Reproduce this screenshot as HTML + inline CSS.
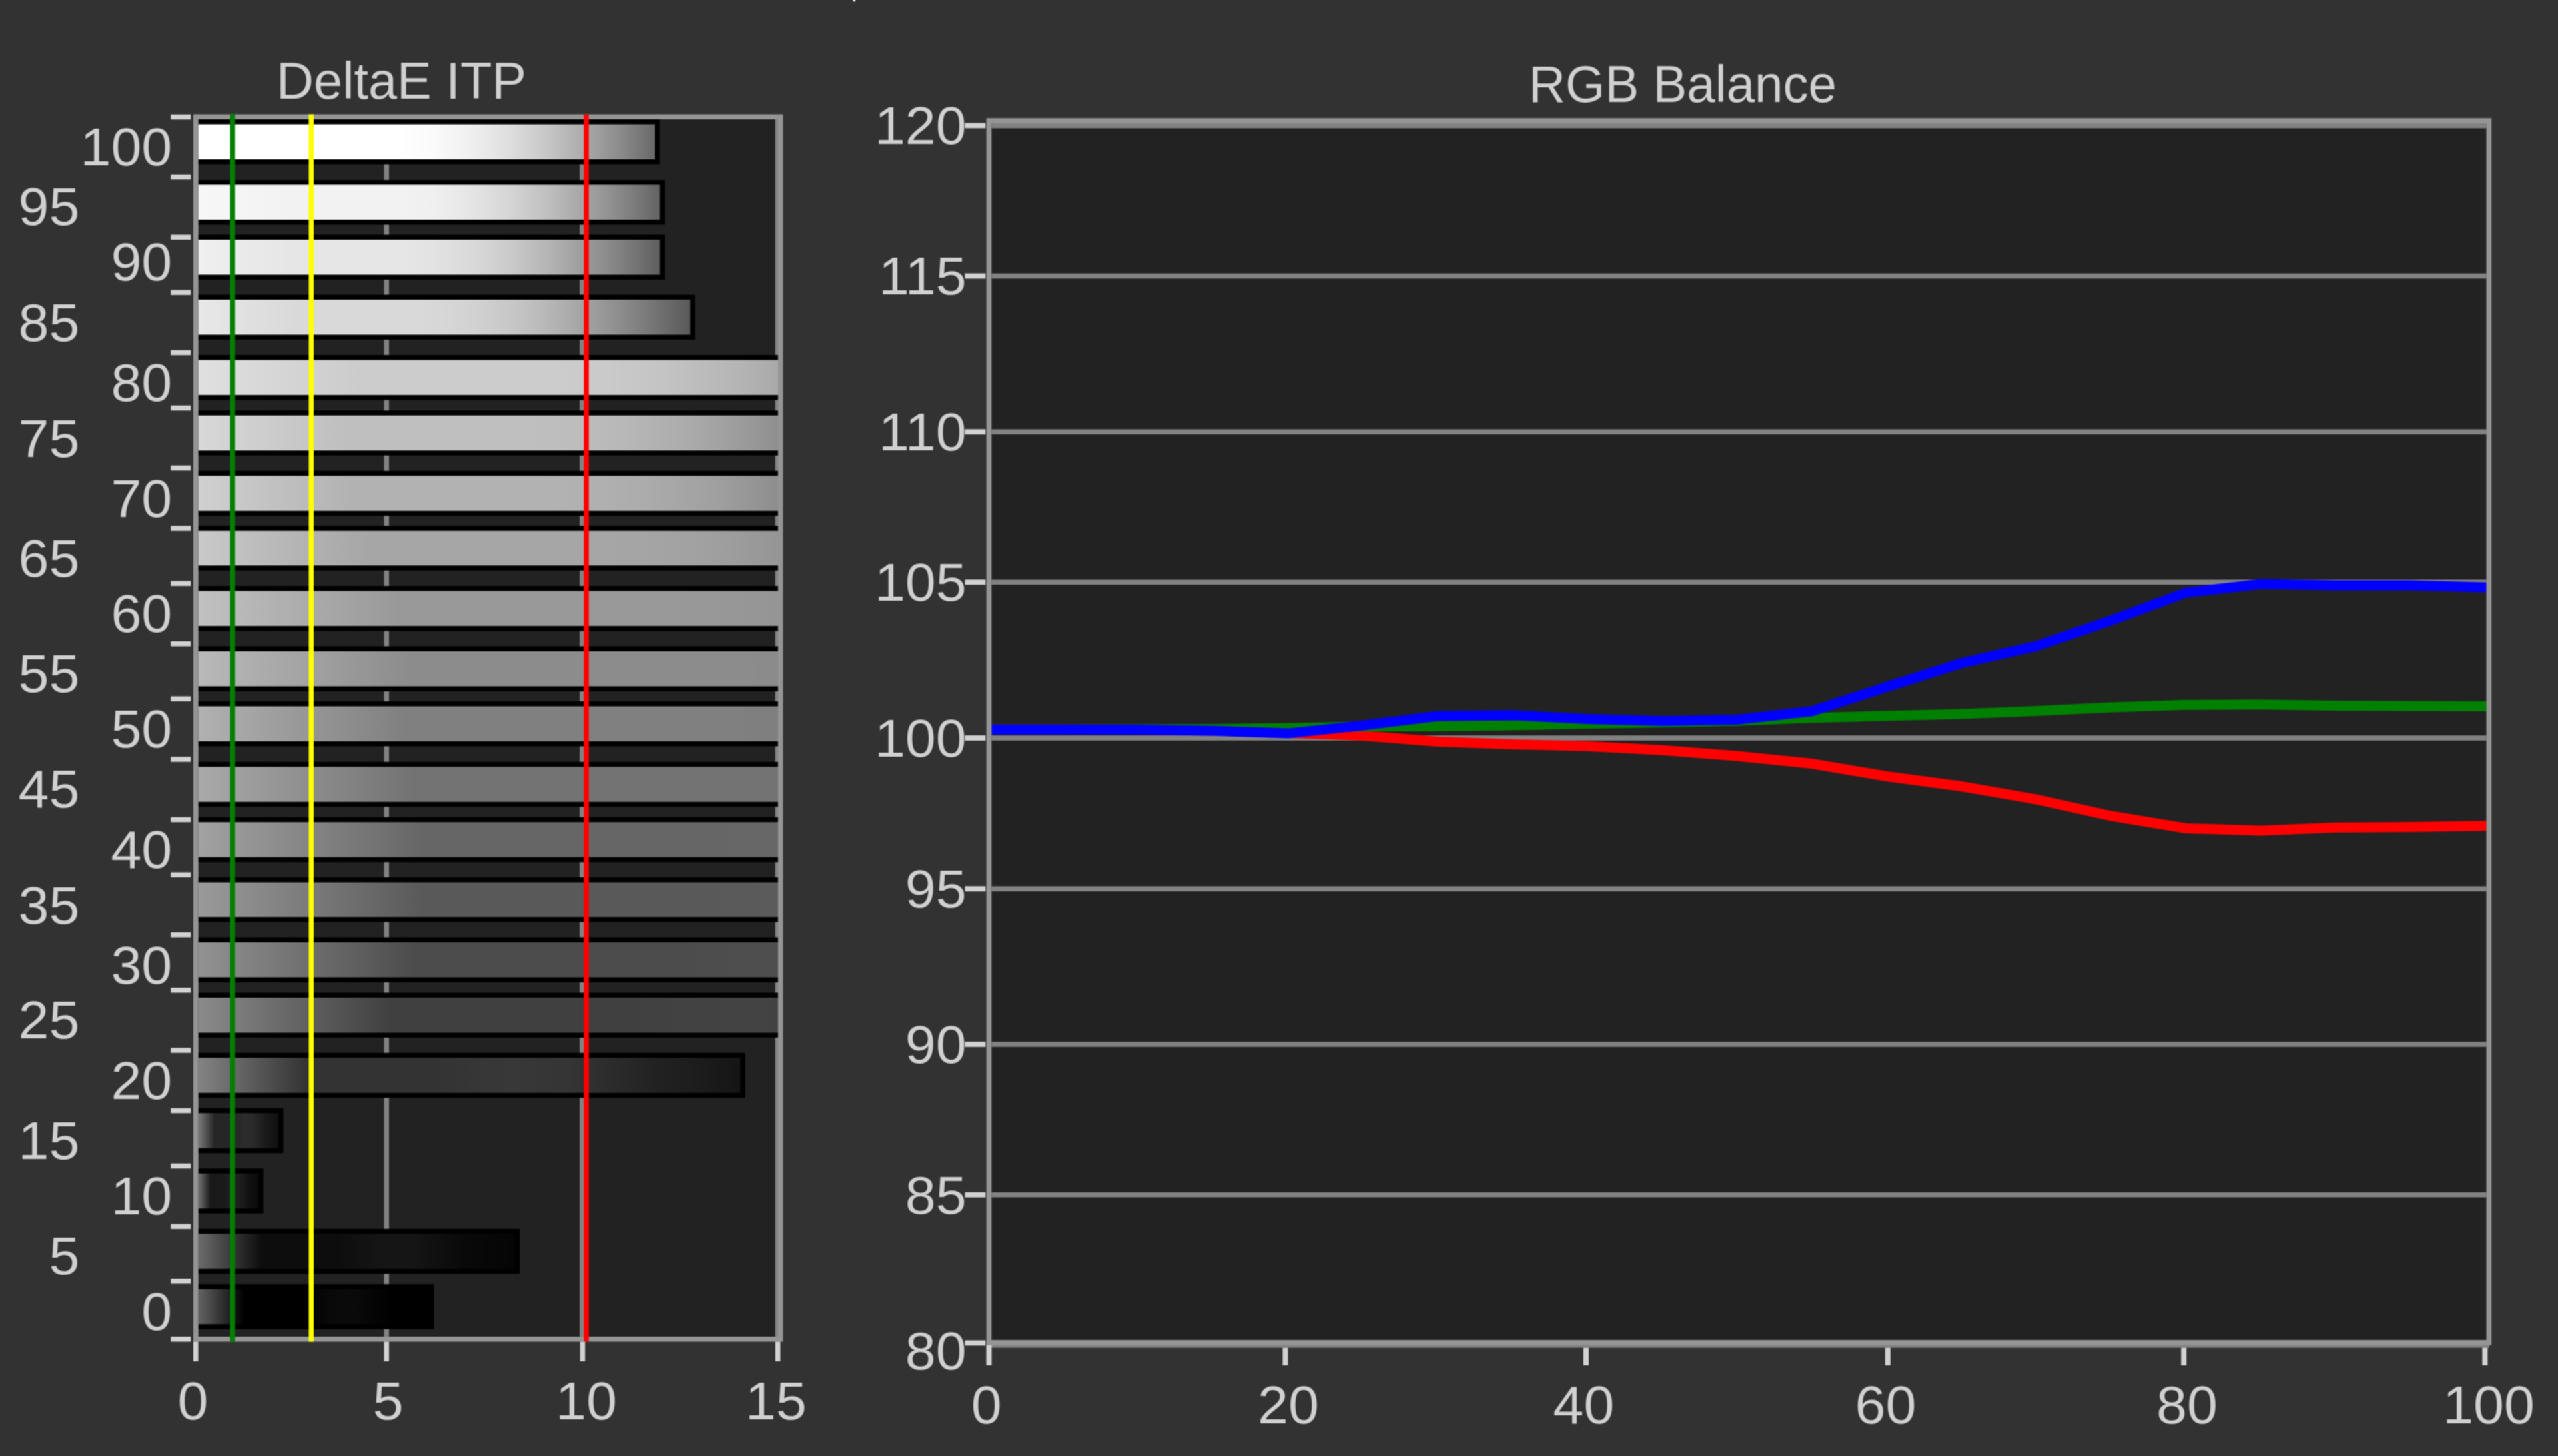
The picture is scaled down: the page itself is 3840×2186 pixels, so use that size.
<!DOCTYPE html>
<html lang="en"><head><meta charset="utf-8"><title>DeltaE ITP / RGB Balance</title>
<style>
html,body{margin:0;padding:0;background:#323232;width:3840px;height:2186px;overflow:hidden}
svg{display:block}
</style></head><body>
<svg width="3840" height="2186" viewBox="0 0 3840 2186">
<rect x="0" y="0" width="3840" height="2186" fill="#323232"/>
<filter id="soft" color-interpolation-filters="sRGB" x="0" y="0" width="3840" height="2186" filterUnits="userSpaceOnUse"><feConvolveMatrix order="3" kernelMatrix="1 2 1 2 4 2 1 2 1" divisor="16" edgeMode="duplicate" preserveAlpha="true"/></filter>
<g filter="url(#soft)">
<rect x="0" y="0" width="3840" height="2186" fill="#323232"/>
<rect x="1280.5" y="-2" width="3.6" height="4.2" fill="#f0f0f0"/>
<defs>
<linearGradient id="b100" gradientUnits="userSpaceOnUse" x1="297.5" y1="0" x2="983.25" y2="0"><stop offset="0" stop-color="#ffffff"/><stop offset="0.05" stop-color="#ffffff"/><stop offset="0.1" stop-color="#ffffff"/><stop offset="0.15" stop-color="#ffffff"/><stop offset="0.2" stop-color="#ffffff"/><stop offset="0.44" stop-color="#ffffff"/><stop offset="0.51" stop-color="#fbfbfb"/><stop offset="0.58" stop-color="#f2f2f2"/><stop offset="0.63" stop-color="#e9e9e9"/><stop offset="0.68" stop-color="#dedede"/><stop offset="0.76" stop-color="#c8c8c8"/><stop offset="0.84" stop-color="#acacac"/><stop offset="0.88" stop-color="#9c9c9c"/><stop offset="0.92" stop-color="#8c8c8c"/><stop offset="0.96" stop-color="#7b7b7b"/><stop offset="1.0" stop-color="#696969"/></linearGradient>
<linearGradient id="b95" gradientUnits="userSpaceOnUse" x1="297.5" y1="0" x2="990.75" y2="0"><stop offset="0" stop-color="#f7f7f7"/><stop offset="0.05" stop-color="#f6f6f6"/><stop offset="0.1" stop-color="#f5f5f5"/><stop offset="0.15" stop-color="#f3f3f3"/><stop offset="0.2" stop-color="#f2f2f2"/><stop offset="0.44" stop-color="#f2f2f2"/><stop offset="0.51" stop-color="#efefef"/><stop offset="0.58" stop-color="#e7e7e7"/><stop offset="0.63" stop-color="#dedede"/><stop offset="0.68" stop-color="#d4d4d4"/><stop offset="0.76" stop-color="#bebebe"/><stop offset="0.84" stop-color="#a3a3a3"/><stop offset="0.88" stop-color="#959595"/><stop offset="0.92" stop-color="#858585"/><stop offset="0.96" stop-color="#757575"/><stop offset="1.0" stop-color="#636363"/></linearGradient>
<linearGradient id="b90" gradientUnits="userSpaceOnUse" x1="297.5" y1="0" x2="990.75" y2="0"><stop offset="0" stop-color="#efefef"/><stop offset="0.05" stop-color="#ededed"/><stop offset="0.1" stop-color="#eaeaea"/><stop offset="0.15" stop-color="#e8e8e8"/><stop offset="0.2" stop-color="#e6e6e6"/><stop offset="0.44" stop-color="#e6e6e6"/><stop offset="0.51" stop-color="#e2e2e2"/><stop offset="0.58" stop-color="#dbdbdb"/><stop offset="0.63" stop-color="#d3d3d3"/><stop offset="0.68" stop-color="#c9c9c9"/><stop offset="0.76" stop-color="#b4b4b4"/><stop offset="0.84" stop-color="#9a9a9a"/><stop offset="0.88" stop-color="#8d8d8d"/><stop offset="0.92" stop-color="#7e7e7e"/><stop offset="0.96" stop-color="#6f6f6f"/><stop offset="1.0" stop-color="#5e5e5e"/></linearGradient>
<linearGradient id="b85" gradientUnits="userSpaceOnUse" x1="297.5" y1="0" x2="1036.25" y2="0"><stop offset="0" stop-color="#e8e8e8"/><stop offset="0.05" stop-color="#e4e4e4"/><stop offset="0.1" stop-color="#e0e0e0"/><stop offset="0.15" stop-color="#dcdcdc"/><stop offset="0.2" stop-color="#d9d9d9"/><stop offset="0.44" stop-color="#d9d9d9"/><stop offset="0.51" stop-color="#d6d6d6"/><stop offset="0.58" stop-color="#cfcfcf"/><stop offset="0.63" stop-color="#c8c8c8"/><stop offset="0.68" stop-color="#bebebe"/><stop offset="0.76" stop-color="#aaaaaa"/><stop offset="0.84" stop-color="#929292"/><stop offset="0.88" stop-color="#858585"/><stop offset="0.92" stop-color="#777777"/><stop offset="0.96" stop-color="#686868"/><stop offset="1.0" stop-color="#595959"/></linearGradient>
<linearGradient id="b80" gradientUnits="userSpaceOnUse" x1="297.5" y1="0" x2="1497.50" y2="0"><stop offset="0" stop-color="#e0e0e0"/><stop offset="0.05" stop-color="#dbdbdb"/><stop offset="0.1" stop-color="#d6d6d6"/><stop offset="0.15" stop-color="#d1d1d1"/><stop offset="0.2" stop-color="#cccccc"/><stop offset="0.44" stop-color="#cccccc"/><stop offset="0.51" stop-color="#cacaca"/><stop offset="0.58" stop-color="#c4c4c4"/><stop offset="0.63" stop-color="#bcbcbc"/><stop offset="0.68" stop-color="#b4b4b4"/><stop offset="0.76" stop-color="#a1a1a1"/><stop offset="0.84" stop-color="#898989"/><stop offset="0.88" stop-color="#7d7d7d"/><stop offset="0.92" stop-color="#707070"/><stop offset="0.96" stop-color="#626262"/><stop offset="1.0" stop-color="#545454"/></linearGradient>
<linearGradient id="b75" gradientUnits="userSpaceOnUse" x1="297.5" y1="0" x2="1397.50" y2="0"><stop offset="0" stop-color="#d8d8d8"/><stop offset="0.05" stop-color="#d2d2d2"/><stop offset="0.1" stop-color="#cccccc"/><stop offset="0.15" stop-color="#c5c5c5"/><stop offset="0.2" stop-color="#bfbfbf"/><stop offset="0.44" stop-color="#bfbfbf"/><stop offset="0.51" stop-color="#bdbdbd"/><stop offset="0.58" stop-color="#b8b8b8"/><stop offset="0.63" stop-color="#b1b1b1"/><stop offset="0.68" stop-color="#a9a9a9"/><stop offset="0.76" stop-color="#979797"/><stop offset="0.84" stop-color="#818181"/><stop offset="0.88" stop-color="#757575"/><stop offset="0.92" stop-color="#696969"/><stop offset="0.96" stop-color="#5c5c5c"/><stop offset="1.0" stop-color="#4e4e4e"/></linearGradient>
<linearGradient id="b70" gradientUnits="userSpaceOnUse" x1="297.5" y1="0" x2="1447.50" y2="0"><stop offset="0" stop-color="#d0d0d0"/><stop offset="0.05" stop-color="#c9c9c9"/><stop offset="0.1" stop-color="#c1c1c1"/><stop offset="0.15" stop-color="#bababa"/><stop offset="0.2" stop-color="#b2b2b2"/><stop offset="0.44" stop-color="#b2b2b2"/><stop offset="0.51" stop-color="#b1b1b1"/><stop offset="0.58" stop-color="#acacac"/><stop offset="0.63" stop-color="#a6a6a6"/><stop offset="0.68" stop-color="#9f9f9f"/><stop offset="0.76" stop-color="#8d8d8d"/><stop offset="0.84" stop-color="#787878"/><stop offset="0.88" stop-color="#6d6d6d"/><stop offset="0.92" stop-color="#626262"/><stop offset="0.96" stop-color="#565656"/><stop offset="1.0" stop-color="#494949"/></linearGradient>
<linearGradient id="b65" gradientUnits="userSpaceOnUse" x1="297.5" y1="0" x2="1597.50" y2="0"><stop offset="0" stop-color="#c9c9c9"/><stop offset="0.05" stop-color="#c0c0c0"/><stop offset="0.1" stop-color="#b7b7b7"/><stop offset="0.15" stop-color="#aeaeae"/><stop offset="0.2" stop-color="#a6a6a6"/><stop offset="0.44" stop-color="#a6a6a6"/><stop offset="0.51" stop-color="#a5a5a5"/><stop offset="0.58" stop-color="#a1a1a1"/><stop offset="0.63" stop-color="#9b9b9b"/><stop offset="0.68" stop-color="#949494"/><stop offset="0.76" stop-color="#848484"/><stop offset="0.84" stop-color="#6f6f6f"/><stop offset="0.88" stop-color="#666666"/><stop offset="0.92" stop-color="#5b5b5b"/><stop offset="0.96" stop-color="#505050"/><stop offset="1.0" stop-color="#444444"/></linearGradient>
<linearGradient id="b60" gradientUnits="userSpaceOnUse" x1="297.5" y1="0" x2="1797.50" y2="0"><stop offset="0" stop-color="#c1c1c1"/><stop offset="0.05" stop-color="#b7b7b7"/><stop offset="0.1" stop-color="#adadad"/><stop offset="0.15" stop-color="#a3a3a3"/><stop offset="0.2" stop-color="#999999"/><stop offset="0.44" stop-color="#999999"/><stop offset="0.51" stop-color="#989898"/><stop offset="0.58" stop-color="#959595"/><stop offset="0.63" stop-color="#909090"/><stop offset="0.68" stop-color="#898989"/><stop offset="0.76" stop-color="#7a7a7a"/><stop offset="0.84" stop-color="#676767"/><stop offset="0.88" stop-color="#5e5e5e"/><stop offset="0.92" stop-color="#545454"/><stop offset="0.96" stop-color="#4a4a4a"/><stop offset="1.0" stop-color="#3f3f3f"/></linearGradient>
<linearGradient id="b55" gradientUnits="userSpaceOnUse" x1="297.5" y1="0" x2="1897.50" y2="0"><stop offset="0" stop-color="#b9b9b9"/><stop offset="0.05" stop-color="#aeaeae"/><stop offset="0.1" stop-color="#a3a3a3"/><stop offset="0.15" stop-color="#979797"/><stop offset="0.2" stop-color="#8c8c8c"/><stop offset="0.44" stop-color="#8c8c8c"/><stop offset="0.51" stop-color="#8c8c8c"/><stop offset="0.58" stop-color="#898989"/><stop offset="0.63" stop-color="#858585"/><stop offset="0.68" stop-color="#7f7f7f"/><stop offset="0.76" stop-color="#707070"/><stop offset="0.84" stop-color="#5e5e5e"/><stop offset="0.88" stop-color="#565656"/><stop offset="0.92" stop-color="#4d4d4d"/><stop offset="0.96" stop-color="#444444"/><stop offset="1.0" stop-color="#3a3a3a"/></linearGradient>
<linearGradient id="b50" gradientUnits="userSpaceOnUse" x1="297.5" y1="0" x2="1847.50" y2="0"><stop offset="0" stop-color="#b1b1b1"/><stop offset="0.05" stop-color="#a5a5a5"/><stop offset="0.1" stop-color="#989898"/><stop offset="0.15" stop-color="#8c8c8c"/><stop offset="0.2" stop-color="#808080"/><stop offset="0.44" stop-color="#808080"/><stop offset="0.51" stop-color="#808080"/><stop offset="0.58" stop-color="#7e7e7e"/><stop offset="0.63" stop-color="#797979"/><stop offset="0.68" stop-color="#747474"/><stop offset="0.76" stop-color="#666666"/><stop offset="0.84" stop-color="#565656"/><stop offset="0.88" stop-color="#4e4e4e"/><stop offset="0.92" stop-color="#464646"/><stop offset="0.96" stop-color="#3d3d3d"/><stop offset="1.0" stop-color="#343434"/></linearGradient>
<linearGradient id="b45" gradientUnits="userSpaceOnUse" x1="297.5" y1="0" x2="1917.50" y2="0"><stop offset="0" stop-color="#a9a9a9"/><stop offset="0.05" stop-color="#9c9c9c"/><stop offset="0.1" stop-color="#8e8e8e"/><stop offset="0.15" stop-color="#808080"/><stop offset="0.2" stop-color="#737373"/><stop offset="0.44" stop-color="#737373"/><stop offset="0.51" stop-color="#737373"/><stop offset="0.58" stop-color="#727272"/><stop offset="0.63" stop-color="#6e6e6e"/><stop offset="0.68" stop-color="#6a6a6a"/><stop offset="0.76" stop-color="#5d5d5d"/><stop offset="0.84" stop-color="#4d4d4d"/><stop offset="0.88" stop-color="#464646"/><stop offset="0.92" stop-color="#3f3f3f"/><stop offset="0.96" stop-color="#373737"/><stop offset="1.0" stop-color="#2f2f2f"/></linearGradient>
<linearGradient id="b40" gradientUnits="userSpaceOnUse" x1="297.5" y1="0" x2="1997.50" y2="0"><stop offset="0" stop-color="#a2a2a2"/><stop offset="0.05" stop-color="#939393"/><stop offset="0.1" stop-color="#848484"/><stop offset="0.15" stop-color="#757575"/><stop offset="0.2" stop-color="#666666"/><stop offset="0.44" stop-color="#666666"/><stop offset="0.51" stop-color="#676767"/><stop offset="0.58" stop-color="#666666"/><stop offset="0.63" stop-color="#636363"/><stop offset="0.68" stop-color="#5f5f5f"/><stop offset="0.76" stop-color="#535353"/><stop offset="0.84" stop-color="#454545"/><stop offset="0.88" stop-color="#3f3f3f"/><stop offset="0.92" stop-color="#383838"/><stop offset="0.96" stop-color="#313131"/><stop offset="1.0" stop-color="#2a2a2a"/></linearGradient>
<linearGradient id="b35" gradientUnits="userSpaceOnUse" x1="297.5" y1="0" x2="1997.50" y2="0"><stop offset="0" stop-color="#9a9a9a"/><stop offset="0.05" stop-color="#8a8a8a"/><stop offset="0.1" stop-color="#7a7a7a"/><stop offset="0.15" stop-color="#696969"/><stop offset="0.2" stop-color="#595959"/><stop offset="0.44" stop-color="#595959"/><stop offset="0.51" stop-color="#5b5b5b"/><stop offset="0.58" stop-color="#5b5b5b"/><stop offset="0.63" stop-color="#585858"/><stop offset="0.68" stop-color="#545454"/><stop offset="0.76" stop-color="#494949"/><stop offset="0.84" stop-color="#3c3c3c"/><stop offset="0.88" stop-color="#373737"/><stop offset="0.92" stop-color="#313131"/><stop offset="0.96" stop-color="#2b2b2b"/><stop offset="1.0" stop-color="#252525"/></linearGradient>
<linearGradient id="b30" gradientUnits="userSpaceOnUse" x1="297.5" y1="0" x2="1917.50" y2="0"><stop offset="0" stop-color="#929292"/><stop offset="0.05" stop-color="#818181"/><stop offset="0.1" stop-color="#6f6f6f"/><stop offset="0.15" stop-color="#5e5e5e"/><stop offset="0.2" stop-color="#4c4c4c"/><stop offset="0.44" stop-color="#4c4c4c"/><stop offset="0.51" stop-color="#4e4e4e"/><stop offset="0.58" stop-color="#4f4f4f"/><stop offset="0.63" stop-color="#4d4d4d"/><stop offset="0.68" stop-color="#4a4a4a"/><stop offset="0.76" stop-color="#3f3f3f"/><stop offset="0.84" stop-color="#333333"/><stop offset="0.88" stop-color="#2f2f2f"/><stop offset="0.92" stop-color="#2a2a2a"/><stop offset="0.96" stop-color="#252525"/><stop offset="1.0" stop-color="#1f1f1f"/></linearGradient>
<linearGradient id="b25" gradientUnits="userSpaceOnUse" x1="297.5" y1="0" x2="1737.50" y2="0"><stop offset="0" stop-color="#8a8a8a"/><stop offset="0.05" stop-color="#787878"/><stop offset="0.1" stop-color="#656565"/><stop offset="0.15" stop-color="#525252"/><stop offset="0.2" stop-color="#404040"/><stop offset="0.44" stop-color="#404040"/><stop offset="0.51" stop-color="#424242"/><stop offset="0.58" stop-color="#434343"/><stop offset="0.63" stop-color="#414141"/><stop offset="0.68" stop-color="#3f3f3f"/><stop offset="0.76" stop-color="#363636"/><stop offset="0.84" stop-color="#2b2b2b"/><stop offset="0.88" stop-color="#272727"/><stop offset="0.92" stop-color="#232323"/><stop offset="0.96" stop-color="#1f1f1f"/><stop offset="1.0" stop-color="#1a1a1a"/></linearGradient>
<linearGradient id="b20" gradientUnits="userSpaceOnUse" x1="297.5" y1="0" x2="1111.25" y2="0"><stop offset="0" stop-color="#838383"/><stop offset="0.05" stop-color="#6f6f6f"/><stop offset="0.1" stop-color="#5b5b5b"/><stop offset="0.15" stop-color="#474747"/><stop offset="0.2" stop-color="#333333"/><stop offset="0.44" stop-color="#333333"/><stop offset="0.51" stop-color="#363636"/><stop offset="0.58" stop-color="#383838"/><stop offset="0.63" stop-color="#363636"/><stop offset="0.68" stop-color="#353535"/><stop offset="0.76" stop-color="#2c2c2c"/><stop offset="0.84" stop-color="#222222"/><stop offset="0.88" stop-color="#1f1f1f"/><stop offset="0.92" stop-color="#1c1c1c"/><stop offset="0.96" stop-color="#191919"/><stop offset="1.0" stop-color="#151515"/></linearGradient>
<linearGradient id="b15" gradientUnits="userSpaceOnUse" x1="297.5" y1="0" x2="418.00" y2="0"><stop offset="0" stop-color="#7b7b7b"/><stop offset="0.05" stop-color="#666666"/><stop offset="0.1" stop-color="#515151"/><stop offset="0.15" stop-color="#3b3b3b"/><stop offset="0.2" stop-color="#262626"/><stop offset="0.44" stop-color="#262626"/><stop offset="0.51" stop-color="#292929"/><stop offset="0.58" stop-color="#2c2c2c"/><stop offset="0.63" stop-color="#2b2b2b"/><stop offset="0.68" stop-color="#2a2a2a"/><stop offset="0.76" stop-color="#222222"/><stop offset="0.84" stop-color="#1a1a1a"/><stop offset="0.88" stop-color="#171717"/><stop offset="0.92" stop-color="#151515"/><stop offset="0.96" stop-color="#121212"/><stop offset="1.0" stop-color="#101010"/></linearGradient>
<linearGradient id="b10" gradientUnits="userSpaceOnUse" x1="297.5" y1="0" x2="388.00" y2="0"><stop offset="0" stop-color="#737373"/><stop offset="0.05" stop-color="#5d5d5d"/><stop offset="0.1" stop-color="#464646"/><stop offset="0.15" stop-color="#303030"/><stop offset="0.2" stop-color="#191919"/><stop offset="0.44" stop-color="#1a1a1a"/><stop offset="0.51" stop-color="#1d1d1d"/><stop offset="0.58" stop-color="#202020"/><stop offset="0.63" stop-color="#202020"/><stop offset="0.68" stop-color="#1f1f1f"/><stop offset="0.76" stop-color="#191919"/><stop offset="0.84" stop-color="#111111"/><stop offset="0.88" stop-color="#101010"/><stop offset="0.92" stop-color="#0e0e0e"/><stop offset="0.96" stop-color="#0c0c0c"/><stop offset="1.0" stop-color="#0a0a0a"/></linearGradient>
<linearGradient id="b5" gradientUnits="userSpaceOnUse" x1="297.5" y1="0" x2="772.50" y2="0"><stop offset="0" stop-color="#6b6b6b"/><stop offset="0.05" stop-color="#545454"/><stop offset="0.1" stop-color="#3c3c3c"/><stop offset="0.15" stop-color="#242424"/><stop offset="0.2" stop-color="#0d0d0d"/><stop offset="0.44" stop-color="#0d0d0d"/><stop offset="0.51" stop-color="#111111"/><stop offset="0.58" stop-color="#151515"/><stop offset="0.63" stop-color="#151515"/><stop offset="0.68" stop-color="#151515"/><stop offset="0.76" stop-color="#0f0f0f"/><stop offset="0.84" stop-color="#090909"/><stop offset="0.88" stop-color="#080808"/><stop offset="0.92" stop-color="#070707"/><stop offset="0.96" stop-color="#060606"/><stop offset="1.0" stop-color="#050505"/></linearGradient>
<linearGradient id="b0" gradientUnits="userSpaceOnUse" x1="297.5" y1="0" x2="644.00" y2="0"><stop offset="0" stop-color="#636363"/><stop offset="0.05" stop-color="#4b4b4b"/><stop offset="0.1" stop-color="#323232"/><stop offset="0.15" stop-color="#191919"/><stop offset="0.2" stop-color="#000000"/><stop offset="0.44" stop-color="#000000"/><stop offset="0.51" stop-color="#040404"/><stop offset="0.58" stop-color="#090909"/><stop offset="0.63" stop-color="#0a0a0a"/><stop offset="0.68" stop-color="#0a0a0a"/><stop offset="0.76" stop-color="#050505"/><stop offset="0.84" stop-color="#000000"/><stop offset="0.88" stop-color="#000000"/><stop offset="0.92" stop-color="#000000"/><stop offset="0.96" stop-color="#000000"/><stop offset="1.0" stop-color="#000000"/></linearGradient>
<clipPath id="cl"><rect x="297.5" y="179.0" width="871.0" height="1828.0"/></clipPath>
<clipPath id="cr"><rect x="1488.35" y="184.9" width="2244.2" height="1827.1"/></clipPath>
</defs>
<rect x="290.00" y="171.50" width="885.50" height="1843.00" fill="#222222"/>
<rect x="290.00" y="179.00" width="7.50" height="1828.00" fill="#828282"/>
<rect x="576.50" y="179.00" width="7.50" height="1828.00" fill="#828282"/>
<rect x="870.00" y="179.00" width="7.50" height="1828.00" fill="#828282"/>
<rect x="1163.75" y="179.00" width="7.50" height="1828.00" fill="#828282"/>
<g clip-path="url(#cl)">
<rect x="287.50" y="179.00" width="703.25" height="67.50" fill="#000"/>
<rect x="287.50" y="186.50" width="695.75" height="52.50" fill="url(#b100)"/>
<rect x="287.50" y="270.00" width="710.75" height="67.50" fill="#000"/>
<rect x="287.50" y="277.50" width="703.25" height="52.50" fill="url(#b95)"/>
<rect x="287.50" y="352.50" width="710.75" height="67.50" fill="#000"/>
<rect x="287.50" y="360.00" width="703.25" height="52.50" fill="url(#b90)"/>
<rect x="287.50" y="442.50" width="756.25" height="67.50" fill="#000"/>
<rect x="287.50" y="450.00" width="748.75" height="52.50" fill="url(#b85)"/>
<rect x="287.50" y="533.00" width="901.00" height="67.50" fill="#000"/>
<rect x="287.50" y="540.50" width="901.00" height="52.50" fill="url(#b80)"/>
<rect x="287.50" y="616.25" width="901.00" height="67.50" fill="#000"/>
<rect x="287.50" y="623.75" width="901.00" height="52.50" fill="url(#b75)"/>
<rect x="287.50" y="706.75" width="901.00" height="67.50" fill="#000"/>
<rect x="287.50" y="714.25" width="901.00" height="52.50" fill="url(#b70)"/>
<rect x="287.50" y="789.25" width="901.00" height="67.50" fill="#000"/>
<rect x="287.50" y="796.75" width="901.00" height="52.50" fill="url(#b65)"/>
<rect x="287.50" y="880.00" width="901.00" height="67.50" fill="#000"/>
<rect x="287.50" y="887.50" width="901.00" height="52.50" fill="url(#b60)"/>
<rect x="287.50" y="970.50" width="901.00" height="67.50" fill="#000"/>
<rect x="287.50" y="978.00" width="901.00" height="52.50" fill="url(#b55)"/>
<rect x="287.50" y="1053.00" width="901.00" height="67.50" fill="#000"/>
<rect x="287.50" y="1060.50" width="901.00" height="52.50" fill="url(#b50)"/>
<rect x="287.50" y="1143.75" width="901.00" height="67.50" fill="#000"/>
<rect x="287.50" y="1151.25" width="901.00" height="52.50" fill="url(#b45)"/>
<rect x="287.50" y="1226.75" width="901.00" height="67.50" fill="#000"/>
<rect x="287.50" y="1234.25" width="901.00" height="52.50" fill="url(#b40)"/>
<rect x="287.50" y="1317.00" width="901.00" height="67.50" fill="#000"/>
<rect x="287.50" y="1324.50" width="901.00" height="52.50" fill="url(#b35)"/>
<rect x="287.50" y="1407.50" width="901.00" height="67.50" fill="#000"/>
<rect x="287.50" y="1415.00" width="901.00" height="52.50" fill="url(#b30)"/>
<rect x="287.50" y="1490.50" width="901.00" height="67.50" fill="#000"/>
<rect x="287.50" y="1498.00" width="901.00" height="52.50" fill="url(#b25)"/>
<rect x="287.50" y="1580.75" width="831.25" height="67.50" fill="#000"/>
<rect x="287.50" y="1588.25" width="823.75" height="52.50" fill="url(#b20)"/>
<rect x="287.50" y="1663.75" width="138.00" height="67.50" fill="#000"/>
<rect x="287.50" y="1671.25" width="130.50" height="52.50" fill="url(#b15)"/>
<rect x="287.50" y="1754.25" width="108.00" height="67.50" fill="#000"/>
<rect x="287.50" y="1761.75" width="100.50" height="52.50" fill="url(#b10)"/>
<rect x="287.50" y="1844.75" width="492.50" height="67.50" fill="#000"/>
<rect x="287.50" y="1852.25" width="485.00" height="52.50" fill="url(#b5)"/>
<rect x="287.50" y="1928.25" width="364.00" height="67.50" fill="#000"/>
<rect x="287.50" y="1935.75" width="356.50" height="52.50" fill="url(#b0)"/>
</g>
<rect x="293.75" y="175.25" width="878.0" height="1835.5" fill="none" stroke="#959595" stroke-width="7.5"/>
<rect x="345.50" y="171.50" width="7.50" height="1843.00" fill="#008000"/>
<rect x="463.50" y="171.50" width="7.50" height="1843.00" fill="#ffff00"/>
<rect x="876.25" y="171.50" width="7.50" height="1843.00" fill="#ff0000"/>
<rect x="256.25" y="171.75" width="30.00" height="7.50" fill="#d2d2d2"/>
<rect x="256.25" y="261.75" width="30.00" height="7.50" fill="#d2d2d2"/>
<rect x="256.25" y="352.50" width="30.00" height="7.50" fill="#d2d2d2"/>
<rect x="256.25" y="435.50" width="30.00" height="7.50" fill="#d2d2d2"/>
<rect x="256.25" y="525.75" width="30.00" height="7.50" fill="#d2d2d2"/>
<rect x="256.25" y="608.75" width="30.00" height="7.50" fill="#d2d2d2"/>
<rect x="256.25" y="698.75" width="30.00" height="7.50" fill="#d2d2d2"/>
<rect x="256.25" y="789.25" width="30.00" height="7.50" fill="#d2d2d2"/>
<rect x="256.25" y="872.50" width="30.00" height="7.50" fill="#d2d2d2"/>
<rect x="256.25" y="963.00" width="30.00" height="7.50" fill="#d2d2d2"/>
<rect x="256.25" y="1045.50" width="30.00" height="7.50" fill="#d2d2d2"/>
<rect x="256.25" y="1136.25" width="30.00" height="7.50" fill="#d2d2d2"/>
<rect x="256.25" y="1226.75" width="30.00" height="7.50" fill="#d2d2d2"/>
<rect x="256.25" y="1309.50" width="30.00" height="7.50" fill="#d2d2d2"/>
<rect x="256.25" y="1400.00" width="30.00" height="7.50" fill="#d2d2d2"/>
<rect x="256.25" y="1483.00" width="30.00" height="7.50" fill="#d2d2d2"/>
<rect x="256.25" y="1573.25" width="30.00" height="7.50" fill="#d2d2d2"/>
<rect x="256.25" y="1663.75" width="30.00" height="7.50" fill="#d2d2d2"/>
<rect x="256.25" y="1746.75" width="30.00" height="7.50" fill="#d2d2d2"/>
<rect x="256.25" y="1837.50" width="30.00" height="7.50" fill="#d2d2d2"/>
<rect x="256.25" y="1920.00" width="30.00" height="7.50" fill="#d2d2d2"/>
<rect x="256.25" y="2007.00" width="30.00" height="7.50" fill="#d2d2d2"/>
<rect x="290.00" y="2014.50" width="7.50" height="29.50" fill="#d2d2d2"/>
<rect x="576.50" y="2014.50" width="7.50" height="29.50" fill="#d2d2d2"/>
<rect x="870.65" y="2014.50" width="7.50" height="29.50" fill="#d2d2d2"/>
<rect x="1164.00" y="2014.50" width="7.50" height="29.50" fill="#d2d2d2"/>
<g font-family="Liberation Sans, Arial, sans-serif" font-size="79" fill="#d0d0d0">
<text transform="translate(258.2,247.75) scale(1.045,1)" text-anchor="end">100</text>
<text transform="translate(119.4,337.75) scale(1.045,1)" text-anchor="end">95</text>
<text transform="translate(258.2,421.00) scale(1.045,1)" text-anchor="end">90</text>
<text transform="translate(119.4,511.50) scale(1.045,1)" text-anchor="end">85</text>
<text transform="translate(258.2,602.00) scale(1.045,1)" text-anchor="end">80</text>
<text transform="translate(119.4,686.00) scale(1.045,1)" text-anchor="end">75</text>
<text transform="translate(258.2,776.00) scale(1.045,1)" text-anchor="end">70</text>
<text transform="translate(119.4,865.50) scale(1.045,1)" text-anchor="end">65</text>
<text transform="translate(258.2,949.00) scale(1.045,1)" text-anchor="end">60</text>
<text transform="translate(119.4,1039.00) scale(1.045,1)" text-anchor="end">55</text>
<text transform="translate(258.2,1122.25) scale(1.045,1)" text-anchor="end">50</text>
<text transform="translate(119.4,1211.50) scale(1.045,1)" text-anchor="end">45</text>
<text transform="translate(258.2,1303.25) scale(1.045,1)" text-anchor="end">40</text>
<text transform="translate(119.4,1386.50) scale(1.045,1)" text-anchor="end">35</text>
<text transform="translate(258.2,1477.00) scale(1.045,1)" text-anchor="end">30</text>
<text transform="translate(119.4,1559.00) scale(1.045,1)" text-anchor="end">25</text>
<text transform="translate(258.2,1650.25) scale(1.045,1)" text-anchor="end">20</text>
<text transform="translate(119.4,1740.25) scale(1.045,1)" text-anchor="end">15</text>
<text transform="translate(258.2,1822.75) scale(1.045,1)" text-anchor="end">10</text>
<text transform="translate(119.4,1913.00) scale(1.045,1)" text-anchor="end">5</text>
<text transform="translate(258.2,1997.25) scale(1.045,1)" text-anchor="end">0</text>
<text transform="translate(289.4,2130.5) scale(1.045,1)" text-anchor="middle">0</text>
<text transform="translate(582.75,2130.5) scale(1.045,1)" text-anchor="middle">5</text>
<text transform="translate(880,2130.5) scale(1.045,1)" text-anchor="middle">10</text>
<text transform="translate(1165,2130.5) scale(1.045,1)" text-anchor="middle">15</text>
<text x="415" y="147.9" font-size="77" textLength="375" lengthAdjust="spacingAndGlyphs">DeltaE ITP</text>
</g>
<rect x="1480.60" y="177.20" width="2259.70" height="1842.50" fill="#222222"/>
<rect x="1488.35" y="184.80" width="2244.20" height="7.60" fill="#828282"/>
<rect x="1488.35" y="410.70" width="2244.20" height="7.60" fill="#828282"/>
<rect x="1488.35" y="644.45" width="2244.20" height="7.60" fill="#828282"/>
<rect x="1488.35" y="870.45" width="2244.20" height="7.60" fill="#828282"/>
<rect x="1488.35" y="1104.20" width="2244.20" height="7.60" fill="#828282"/>
<rect x="1488.35" y="1330.45" width="2244.20" height="7.60" fill="#828282"/>
<rect x="1488.35" y="1564.20" width="2244.20" height="7.60" fill="#828282"/>
<rect x="1488.35" y="1789.95" width="2244.20" height="7.60" fill="#828282"/>
<rect x="1485.00" y="2016.00" width="2252.00" height="7.60" fill="#828282"/>
<g clip-path="url(#cr)" fill="none" stroke-width="15" stroke-linejoin="miter" stroke-linecap="square">
<polyline points="1484.5,1095.25 1596.8,1095.25 1709.1,1095.50 1821.4,1097.00 1933.7,1100.50 2046.0,1104.50 2158.3,1113.50 2270.6,1117.50 2382.9,1120.25 2495.2,1126.25 2607.5,1135.00 2719.8,1146.50 2832.1,1165.50 2944.4,1180.50 3056.7,1200.00 3169.0,1225.00 3281.3,1243.50 3393.6,1247.00 3505.9,1242.25 3618.2,1241.50 3730.5,1239.75" stroke="#ff0000"/>
<polyline points="1484.5,1095.25 1596.8,1095.25 1709.1,1095.00 1821.4,1094.50 1933.7,1093.00 2046.0,1090.75 2158.3,1090.25 2270.6,1089.00 2382.9,1086.50 2495.2,1084.75 2607.5,1082.25 2719.8,1077.75 2832.1,1074.75 2944.4,1072.00 3056.7,1067.50 3169.0,1062.00 3281.3,1058.25 3393.6,1057.75 3505.9,1059.50 3618.2,1060.00 3730.5,1060.50" stroke="#008000"/>
<polyline points="1484.5,1095.25 1596.8,1095.25 1709.1,1095.60 1821.4,1097.25 1933.7,1101.10 2046.0,1089.10 2158.3,1075.00 2270.6,1073.75 2382.9,1079.50 2495.2,1082.50 2607.5,1080.50 2719.8,1068.00 2832.1,1031.25 2944.4,995.75 3056.7,970.25 3169.0,931.75 3281.3,890.00 3393.6,877.00 3505.9,879.00 3618.2,879.00 3730.5,882.00" stroke="#0000ff"/>
</g>
<rect x="1484.475" y="181.075" width="2251.9500000000003" height="1834.75" fill="none" stroke="#959595" stroke-width="7.75"/>
<rect x="1448.40" y="184.50" width="30.90" height="7.80" fill="#d2d2d2"/>
<rect x="1448.40" y="410.60" width="30.90" height="7.80" fill="#d2d2d2"/>
<rect x="1448.40" y="644.35" width="30.90" height="7.80" fill="#d2d2d2"/>
<rect x="1448.40" y="870.35" width="30.90" height="7.80" fill="#d2d2d2"/>
<rect x="1448.40" y="1104.10" width="30.90" height="7.80" fill="#d2d2d2"/>
<rect x="1448.40" y="1330.35" width="30.90" height="7.80" fill="#d2d2d2"/>
<rect x="1448.40" y="1564.10" width="30.90" height="7.80" fill="#d2d2d2"/>
<rect x="1448.40" y="1789.85" width="30.90" height="7.80" fill="#d2d2d2"/>
<rect x="1448.40" y="2012.50" width="30.90" height="7.80" fill="#d2d2d2"/>
<rect x="1480.50" y="2019.70" width="8.00" height="30.30" fill="#d2d2d2"/>
<rect x="1925.40" y="2023.60" width="8.00" height="26.40" fill="#d2d2d2"/>
<rect x="2377.00" y="2023.60" width="8.00" height="26.40" fill="#d2d2d2"/>
<rect x="2829.75" y="2023.60" width="8.00" height="26.40" fill="#d2d2d2"/>
<rect x="3274.20" y="2023.60" width="8.00" height="26.40" fill="#d2d2d2"/>
<rect x="3726.40" y="2023.60" width="8.00" height="26.40" fill="#d2d2d2"/>
<g font-family="Liberation Sans, Arial, sans-serif" font-size="79" fill="#d0d0d0">
<text transform="translate(1450.6,216) scale(1.045,1)" text-anchor="end">120</text>
<text transform="translate(1450.6,442) scale(1.045,1)" text-anchor="end">115</text>
<text transform="translate(1450.6,675.75) scale(1.045,1)" text-anchor="end">110</text>
<text transform="translate(1450.6,902) scale(1.045,1)" text-anchor="end">105</text>
<text transform="translate(1450.6,1135.5) scale(1.045,1)" text-anchor="end">100</text>
<text transform="translate(1450.6,1362) scale(1.045,1)" text-anchor="end">95</text>
<text transform="translate(1450.6,1595.5) scale(1.045,1)" text-anchor="end">90</text>
<text transform="translate(1450.6,1821.5) scale(1.045,1)" text-anchor="end">85</text>
<text transform="translate(1450.6,2056) scale(1.045,1)" text-anchor="end">80</text>
<text transform="translate(1480.6,2136.5) scale(1.045,1)" text-anchor="middle">0</text>
<text transform="translate(1934,2136.5) scale(1.045,1)" text-anchor="middle">20</text>
<text transform="translate(2377.5,2136.5) scale(1.045,1)" text-anchor="middle">40</text>
<text transform="translate(2830.4,2136.5) scale(1.045,1)" text-anchor="middle">60</text>
<text transform="translate(3283,2136.5) scale(1.045,1)" text-anchor="middle">80</text>
<text transform="translate(3736,2136.5) scale(1.045,1)" text-anchor="middle">100</text>
<text x="2295" y="152.5" font-size="77" textLength="462" lengthAdjust="spacingAndGlyphs">RGB Balance</text>
</g>
</g>
</svg>
</body></html>
